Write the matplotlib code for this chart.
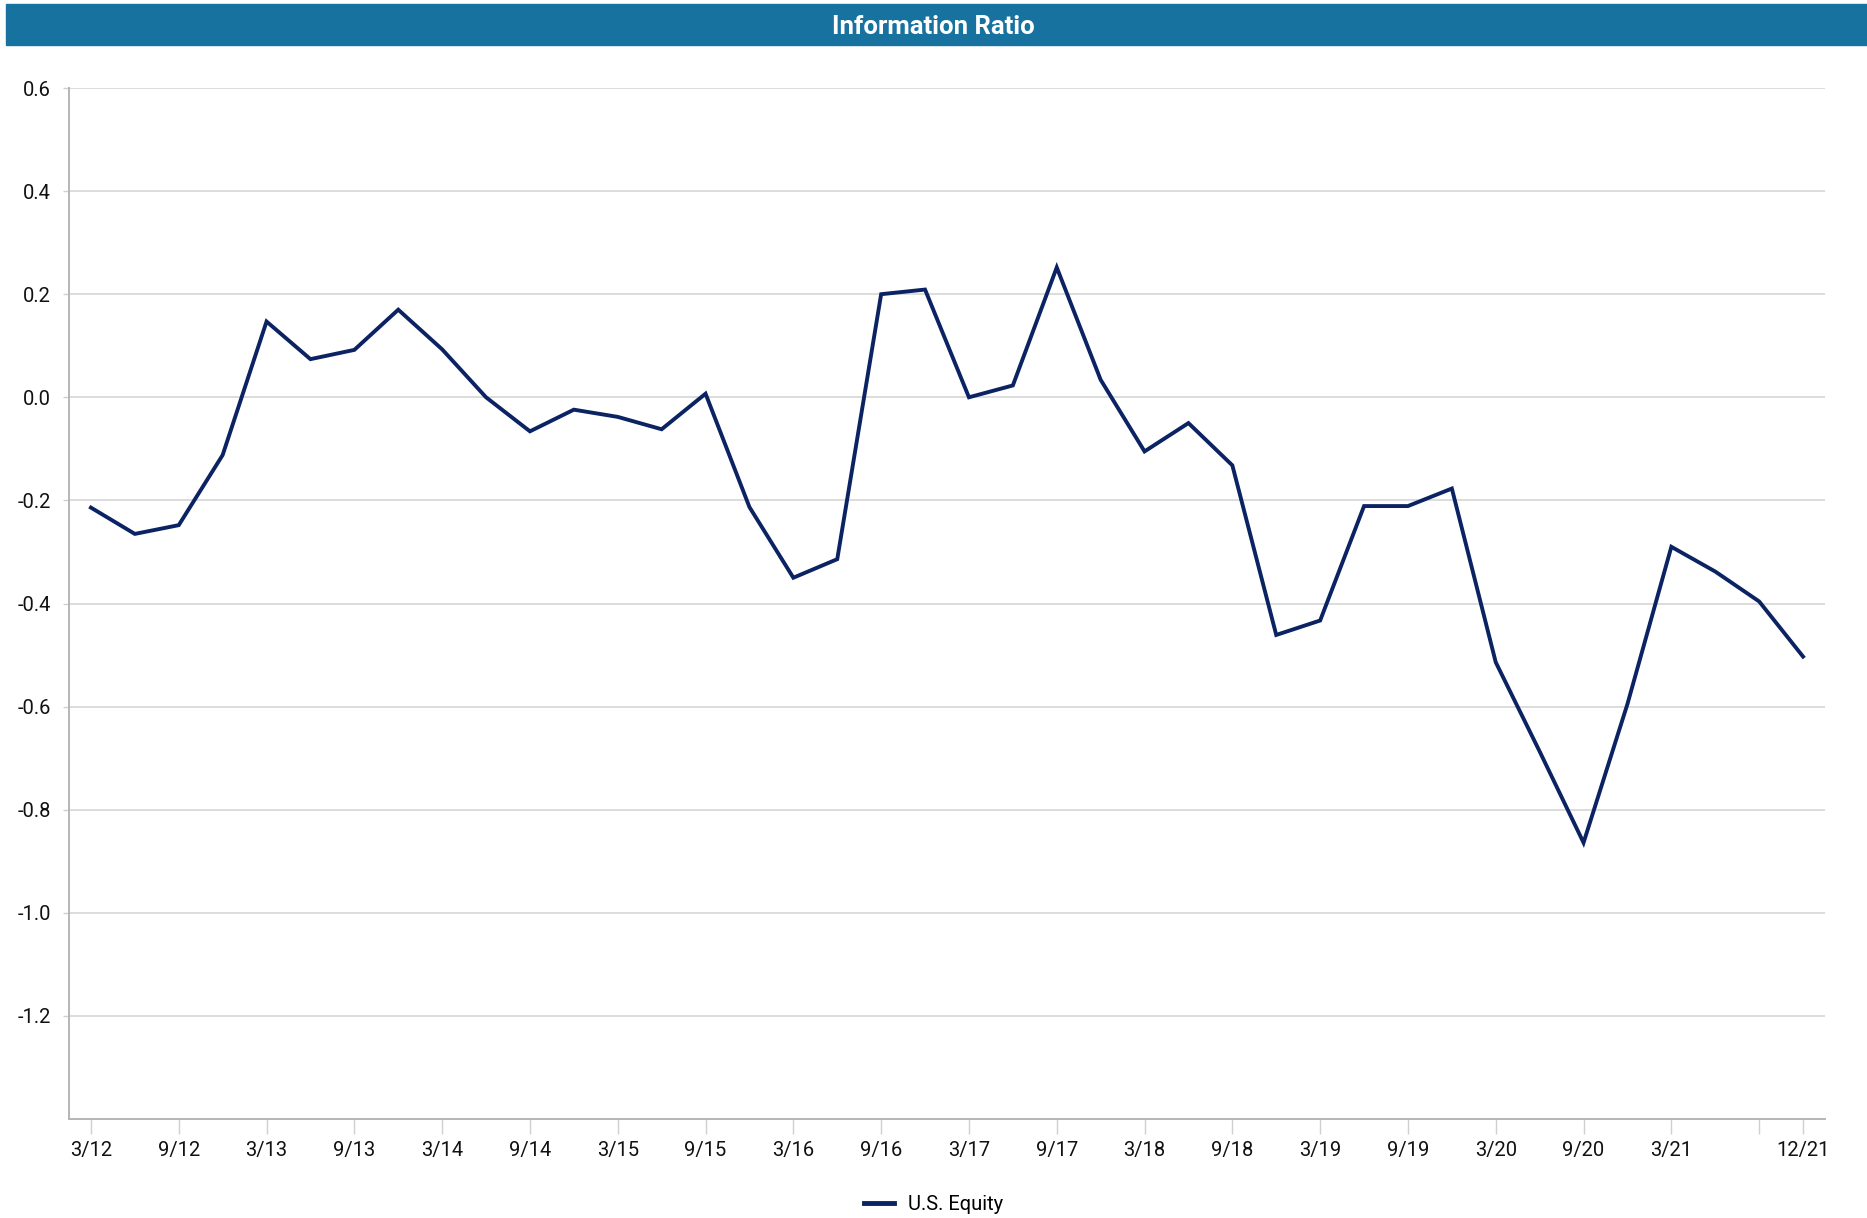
import numpy as np
import matplotlib.pyplot as plt
from matplotlib.patches import Rectangle

plt.rcParams['font.family'] = ['Roboto', 'DejaVu Sans']

# quarterly information ratio, 3/12 .. 12/21
quarters = ['3/12', '6/12', '9/12', '12/12', '3/13', '6/13', '9/13', '12/13',
            '3/14', '6/14', '9/14', '12/14', '3/15', '6/15', '9/15', '12/15',
            '3/16', '6/16', '9/16', '12/16', '3/17', '6/17', '9/17', '12/17',
            '3/18', '6/18', '9/18', '12/18', '3/19', '6/19', '9/19', '12/19',
            '3/20', '6/20', '9/20', '12/20', '3/21', '6/21', '9/21', '12/21']
us_equity = [-0.214, -0.265, -0.248, -0.112, 0.147, 0.074, 0.092, 0.170,
             0.093, 0.000, -0.066, -0.024, -0.038, -0.062, 0.007, -0.213,
             -0.350, -0.314, 0.200, 0.209, 0.000, 0.023, 0.252, 0.034,
             -0.105, -0.050, -0.132, -0.461, -0.433, -0.211, -0.211, -0.177,
             -0.514, -0.687, -0.864, -0.595, -0.290, -0.338, -0.396, -0.503]
tick_idx = list(range(0, 37, 2)) + [38, 39]
tick_text = [quarters[i] for i in range(0, 37, 2)] + ['', '12/21']
y_ticks = [0.6, 0.4, 0.2, 0.0, -0.2, -0.4, -0.6, -0.8, -1.0, -1.2]

fig = plt.figure(figsize=(18.67, 12.18), dpi=100)

# header band
fig.patches.append(Rectangle((6 / 1867, 1 - 45 / 1218), 1 - 6 / 1867, 41 / 1218,
                             transform=fig.transFigure, color='#17729f', zorder=0))
fig.text(0.5, 1 - 27 / 1218, 'Information Ratio', ha='center', va='center',
         color='white', fontsize=18.5, fontweight='bold')

ax = fig.add_axes([69 / 1867, 1 - 1119 / 1218, (1825 - 69) / 1867, (1119 - 88) / 1218])
x = np.arange(len(quarters))
ax.plot(x, us_equity, color='#0b2363', linewidth=2.8, label='U.S. Equity',
        solid_joinstyle='miter', zorder=3)

ax.set_xlim(-0.5, 39.5)
ax.set_ylim(-1.4, 0.6)
ax.set_yticks(y_ticks)
ax.set_yticklabels([f'{v:.1f}' for v in y_ticks])
ax.set_xticks(tick_idx)
ax.set_xticklabels(tick_text)
ax.grid(axis='y', color='#dcdcdc', linewidth=1.4)
ax.set_axisbelow(True)

for side in ['top', 'right']:
    ax.spines[side].set_visible(False)
ax.spines['left'].set_color('#b5b5b5')
ax.spines['bottom'].set_color('#b5b5b5')
ax.spines['left'].set_linewidth(1.4)
ax.spines['bottom'].set_linewidth(1.4)
ax.tick_params(axis='x', length=11, color='#d0d0d0', width=1, labelsize=14.5,
               pad=5, labelcolor='#111111')
ax.tick_params(axis='y', length=4, color='#d0d0d0', width=1, labelsize=14.5,
               pad=9, labelcolor='#111111')

leg = fig.legend(loc='center', bbox_to_anchor=(0.5, 1 - 1205 / 1218), frameon=False,
                 fontsize=14.5, handlelength=1.5, handletextpad=0.7)
leg.get_lines()[0].set_linewidth(3.5)

fig.savefig('out.png', dpi=100)
